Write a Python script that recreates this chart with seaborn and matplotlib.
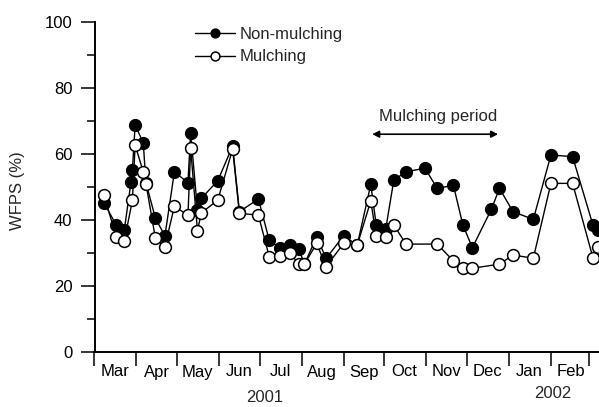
import matplotlib
matplotlib.use("Agg")
import matplotlib.pyplot as plt
import matplotlib.dates as mdates
from matplotlib.ticker import MultipleLocator, NullFormatter
import pandas as pd
import seaborn as sns

# ---- data ----
dates_non = ['2001-03-08', '2001-03-17', '2001-03-23', '2001-03-28', '2001-03-29', '2001-03-31',
             '2001-04-06', '2001-04-08', '2001-04-15', '2001-04-22', '2001-04-29', '2001-05-09',
             '2001-05-11', '2001-05-16', '2001-05-19', '2001-05-31', '2001-06-11', '2001-06-16',
             '2001-06-30', '2001-07-08', '2001-07-16', '2001-07-23', '2001-07-30', '2001-08-03',
             '2001-08-12', '2001-08-19', '2001-09-01', '2001-09-11', '2001-09-21', '2001-09-25',
             '2001-10-02', '2001-10-08', '2001-10-17', '2001-10-31', '2001-11-09', '2001-11-21',
             '2001-11-28', '2001-12-05', '2001-12-19', '2001-12-25', '2002-01-04', '2002-01-19',
             '2002-02-01', '2002-02-17', '2002-03-04', '2002-03-08']
wfps_non = [45.2, 38.5, 37.0, 51.6, 55.2, 68.8,
            63.4, 51.3, 40.5, 35.2, 54.6, 51.3,
            66.5, 43.0, 46.6, 51.9, 62.4, 42.5,
            46.4, 33.9, 31.4, 32.4, 31.1, 26.6,
            34.9, 28.4, 35.2, 32.4, 50.8, 38.5,
            37.2, 52.1, 54.6, 55.7, 49.6, 50.5,
            38.5, 31.6, 43.2, 49.6, 42.5, 40.2,
            59.7, 59.2, 38.5, 37.0]

dates_mul = ['2001-03-08', '2001-03-17', '2001-03-23', '2001-03-29', '2001-03-31', '2001-04-06',
             '2001-04-08', '2001-04-15', '2001-04-22', '2001-04-29', '2001-05-09', '2001-05-11',
             '2001-05-16', '2001-05-19', '2001-05-31', '2001-06-11', '2001-06-16', '2001-06-30',
             '2001-07-08', '2001-07-16', '2001-07-23', '2001-07-30', '2001-08-03', '2001-08-12',
             '2001-08-19', '2001-09-01', '2001-09-11', '2001-09-21', '2001-09-25', '2001-10-02',
             '2001-10-08', '2001-10-17', '2001-11-09', '2001-11-21', '2001-11-28', '2001-12-05',
             '2001-12-25', '2002-01-04', '2002-01-19', '2002-02-01', '2002-02-17', '2002-03-04',
             '2002-03-08']
wfps_mul = [47.6, 34.9, 33.6, 46.0, 62.7, 54.6,
            51.0, 34.4, 31.9, 44.2, 41.4, 61.7,
            36.8, 42.2, 46.0, 61.5, 42.0, 41.5,
            28.9, 29.1, 30.1, 26.6, 26.6, 32.9,
            25.9, 32.9, 32.4, 45.8, 35.2, 34.9,
            38.5, 32.7, 32.7, 27.6, 25.4, 25.4,
            26.6, 29.4, 28.4, 51.1, 51.1, 28.6,
            31.9]

series_labels = ['Non-mulching', 'Mulching']
y_ticks = [0, 20, 40, 60, 80, 100]
x_start, x_end = '2001-03-01', '2002-03-08 12:00'
period_start, period_end = '2001-09-22', '2001-12-24'
period_label = 'Mulching period'
years = ['2001', '2002']

# ---- style ----
sns.set_style('ticks')
plt.rcParams['font.family'] = ['Liberation Sans', 'DejaVu Sans']
FS = 12

W, H = 599, 407
fig = plt.figure(figsize=(W / 100, H / 100), dpi=100)
left_px, bottom_px, top_px = 94.5, 55, 385
ax = fig.add_axes([left_px / W, bottom_px / H, 1 - left_px / W, (top_px - bottom_px) / H])

sns.lineplot(x=pd.to_datetime(dates_non), y=wfps_non, ax=ax, color='black', lw=1.0,
             marker='o', markersize=8.5, markerfacecolor='black', markeredgecolor='black',
             markeredgewidth=1.0, label=series_labels[0], estimator=None, sort=False, zorder=3)
sns.lineplot(x=pd.to_datetime(dates_mul), y=wfps_mul, ax=ax, color='black', lw=1.0,
             marker='o', markersize=8.5, markerfacecolor='white', markeredgecolor='black',
             markeredgewidth=1.1, label=series_labels[1], estimator=None, sort=False, zorder=4)

ax.set_xlim(pd.Timestamp(x_start), pd.Timestamp(x_end))
ax.set_ylim(0, 100)
ax.set_yticks(y_ticks)
ax.yaxis.set_minor_locator(MultipleLocator(10))

ax.xaxis.set_major_locator(mdates.MonthLocator())
ax.xaxis.set_major_formatter(NullFormatter())
ax.xaxis.set_minor_locator(mdates.MonthLocator(bymonthday=16))
ax.xaxis.set_minor_formatter(mdates.DateFormatter('%b'))

for s in ['top', 'right']:
    ax.spines[s].set_visible(False)
for s in ['left', 'bottom']:
    ax.spines[s].set_linewidth(1.4)
    ax.spines[s].set_color('black')

ax.tick_params(axis='y', which='major', length=10, width=1.1, pad=6, labelsize=FS, colors='black')
ax.tick_params(axis='y', which='minor', length=5.8, width=1.1, colors='black')
ax.tick_params(axis='x', which='major', length=10, width=1.1, colors='black')
ax.tick_params(axis='x', which='minor', length=0, pad=9, labelsize=FS, colors='black')

ax.set_xlabel('')
ax.set_ylabel('WFPS (%)', fontsize=FS)
ax.yaxis.set_label_coords((25 - left_px) / (W - left_px), 0.49)

ax.legend(loc='upper left', bbox_to_anchor=(0.199, 0.985), frameon=False, handlelength=2.4,
          handletextpad=0.3, labelspacing=0.45, borderpad=0, borderaxespad=0, fontsize=FS,
          markerscale=0.75)

ax.annotate('', xy=(pd.Timestamp(period_start), 66), xytext=(pd.Timestamp(period_end), 66),
            arrowprops=dict(arrowstyle='<|-|>', color='black', lw=1.2, mutation_scale=10,
                            shrinkA=0, shrinkB=0))
ax.text(pd.Timestamp('2001-11-10'), 71.5, period_label, ha='center', va='center', fontsize=FS)

fig.text(265 / W, 1 - 398 / H, years[0], ha='center', va='center', fontsize=FS)
fig.text(553 / W, 1 - 393 / H, years[1], ha='center', va='center', fontsize=FS)

fig.savefig('out.png', dpi=100)
